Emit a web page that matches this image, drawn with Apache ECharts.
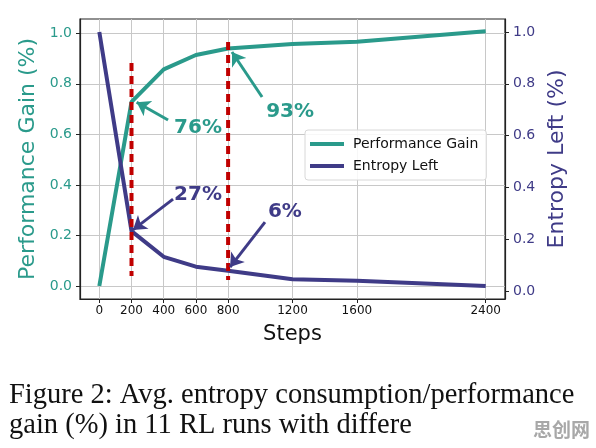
<!DOCTYPE html>
<html>
<head>
<meta charset="utf-8">
<script src="https://cdn.jsdelivr.net/npm/echarts@6/dist/echarts.min.js"></script>
<style>html,body{margin:0;padding:0;background:#fff}#c{width:596px;height:448px}</style>
</head>
<body>
<div id="c"></div>
<script>
// ---- data ----
const steps = [0, 200, 400, 600, 800, 1200, 1600, 2400];
const perfGain = [0.0, 0.729, 0.857, 0.914, 0.940, 0.958, 0.967, 1.008];
const entropyLeft = [1.0, 0.231, 0.132, 0.094, 0.078, 0.045, 0.040, 0.019];
const xTicks = [0, 200, 400, 600, 800, 1200, 1600, 2400];
const yTicks = [0, 0.2, 0.4, 0.6, 0.8, 1.0];
// dashed markers (left-axis units)
const markerSteps = [200, 800];
const markerTop = [0.882, 0.966];
const markerBottom = [0.040, 0.024];
// annotations (left-axis units)
const annotText = ['76%', '93%', '27%', '6%'];
const annotSeries = ['perf', 'perf', 'ent', 'ent'];
const annotTextX = [613, 1185, 613, 1153];
const annotTextY = [0.625, 0.689, 0.360, 0.293];
const arrowFromX = [427, 1011, 458, 1029];
const arrowFromY = [0.657, 0.748, 0.344, 0.253];
const arrowToX = [232, 824, 209, 812];
const arrowToY = [0.727, 0.926, 0.222, 0.075];

const TEAL = '#2a9a8b';
const PURPLE = '#3f3b87';
const RED = '#c00000';
const FONT = 'DejaVu Sans';

const series = [
  {name: 'Performance Gain', type: 'line', yAxisIndex: 0, showSymbol: false,
   data: steps.map((s, i) => [s, perfGain[i]]),
   lineStyle: {color: TEAL, width: 4}, itemStyle: {color: TEAL}, z: 5},
  {name: 'Entropy Left', type: 'line', yAxisIndex: 1, showSymbol: false,
   data: steps.map((s, i) => [s, entropyLeft[i]]),
   lineStyle: {color: PURPLE, width: 4}, itemStyle: {color: PURPLE}, z: 5}
];
markerSteps.forEach((s, i) => {
  series.push({type: 'line', yAxisIndex: 0, showSymbol: false, silent: true,
    data: [[s, markerTop[i]], [s, markerBottom[i]]],
    lineStyle: {color: RED, width: 4, type: [8, 5]}, z: 6});
});
annotText.forEach((t, i) => {
  const col = annotSeries[i] === 'perf' ? TEAL : PURPLE;
  series.push({type: 'lines', coordinateSystem: 'cartesian2d', xAxisIndex: 0, yAxisIndex: 0,
    symbol: ['none', 'arrow'], symbolSize: [0, 13], silent: true, z: 7,
    lineStyle: {color: col, width: 3, opacity: 1},
    data: [{coords: [[arrowFromX[i], arrowFromY[i]], [arrowToX[i], arrowToY[i]]]}]});
  series.push({type: 'scatter', yAxisIndex: 0, symbol: 'circle', symbolSize: 1, silent: true, z: 8,
    itemStyle: {color: 'rgba(0,0,0,0)', opacity: 1},
    label: {show: true, position: 'inside', formatter: t, color: col, fontSize: 20, opacity: 1,
            fontWeight: 'bold', fontFamily: FONT},
    data: [[annotTextX[i], annotTextY[i]]]});
});

const chart = echarts.init(document.getElementById('c'), null, {renderer: 'canvas'});
chart.setOption({
  animation: false,
  backgroundColor: '#fff',
  grid: {left: 80, right: 91, top: 19, bottom: 149, show: true, borderColor: '#222', borderWidth: 1.2, containLabel: false},
  legend: {
    data: ['Performance Gain', 'Entropy Left'], orient: 'vertical', left: 305, top: 130,
    icon: 'rect', itemWidth: 34, itemHeight: 4, itemGap: 8,
    padding: [7, 8, 7, 5], backgroundColor: 'rgba(255,255,255,0.85)',
    borderColor: '#d8d8d8', borderWidth: 1, borderRadius: 3,
    textStyle: {fontFamily: FONT, fontSize: 14, color: '#111', padding: [0, 0, 0, 4]}
  },
  xAxis: {
    type: 'value', min: -120, max: 2520,
    name: 'Steps', nameLocation: 'middle', nameGap: 25,
    nameTextStyle: {fontFamily: FONT, fontSize: 21, color: '#111'},
    axisLine: {show: true, onZero: false, lineStyle: {color: '#222', width: 1.2}},
    axisTick: {show: true, length: 4, customValues: xTicks, lineStyle: {color: '#222'}},
    axisLabel: {customValues: xTicks, fontFamily: FONT, fontSize: 12, color: '#111', margin: 6,
                formatter: v => String(v)},
    splitLine: {show: true, lineStyle: {color: '#c8c8c8', width: 1}}
  },
  yAxis: [
    {type: 'value', position: 'left', min: -0.0514, max: 1.0566,
     name: 'Performance Gain (%)', nameLocation: 'middle', nameGap: 39,
     nameTextStyle: {fontFamily: FONT, fontSize: 22, color: TEAL},
     axisLine: {show: true, onZero: false, lineStyle: {color: '#222', width: 1.2}},
     axisTick: {show: true, length: 4, customValues: yTicks, lineStyle: {color: '#222'}},
     axisLabel: {customValues: yTicks, fontFamily: FONT, fontSize: 14, color: TEAL, margin: 8,
                 formatter: v => v.toFixed(1)},
     splitLine: {show: true, lineStyle: {color: '#c8c8c8', width: 1}}},
    {type: 'value', position: 'right', min: -0.0309, max: 1.0502,
     name: 'Entropy Left (%)', nameLocation: 'middle', nameGap: 38,
     nameTextStyle: {fontFamily: FONT, fontSize: 22, color: PURPLE},
     axisLine: {show: true, onZero: false, lineStyle: {color: '#222', width: 1.2}},
     axisTick: {show: true, length: 4, customValues: yTicks, lineStyle: {color: '#222'}},
     axisLabel: {customValues: yTicks, fontFamily: FONT, fontSize: 14, color: PURPLE, margin: 8,
                 formatter: v => v.toFixed(1)},
     splitLine: {show: false}}
  ],
  graphic: [
    {type: 'text', left: 9, top: 381, style: {text: 'Figure 2: Avg. entropy consumption/performance',
      font: '28.5px "Liberation Serif", "Times New Roman", serif', fill: '#111'}},
    {type: 'text', left: 9, top: 411, style: {text: 'gain (%) in 11 RL runs with differe',
      font: '28.5px "Liberation Serif", "Times New Roman", serif', fill: '#111'}},
    {type: 'text', left: 533, top: 420, style: {text: '思创网',
      font: 'bold 19px "Noto Sans CJK SC", sans-serif', fill: '#a8a8a8'}}
  ],
  series: series
});
</script>
</body>
</html>
